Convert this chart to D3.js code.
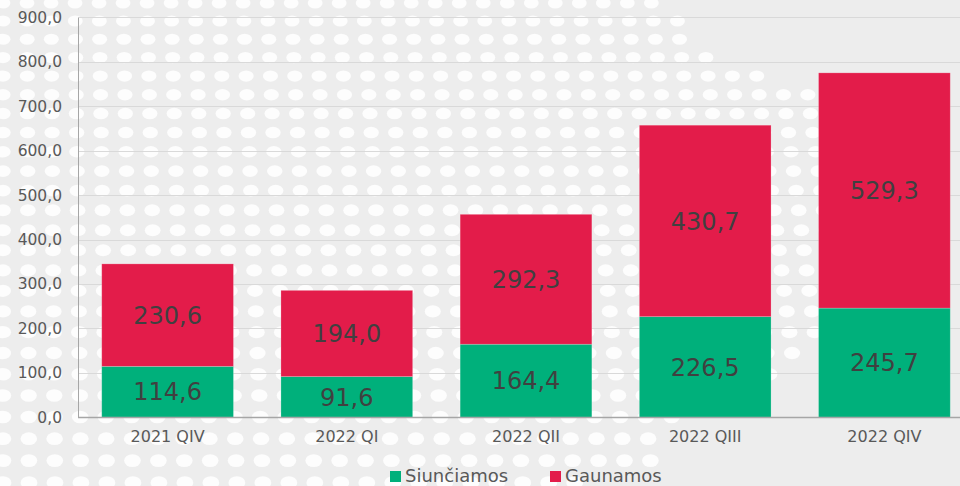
<!DOCTYPE html>
<html>
<head>
<meta charset="utf-8">
<script src="https://cdn.jsdelivr.net/npm/d3@7"></script>
<style>
  html, body { margin: 0; padding: 0; background: #ededed; }
  svg { display: block; font-family: "DejaVu Sans", Verdana, sans-serif; }
</style>
</head>
<body>
<svg id="chart" width="960" height="486"></svg>
<script>
const categories = ["2021 QIV", "2022 QI", "2022 QII", "2022 QIII", "2022 QIV"];
const siunciamos = [114.6, 91.6, 164.4, 226.5, 245.7];
const gaunamos = [230.6, 194.0, 292.3, 430.7, 529.3];
const seriesNames = ["Siunčiamos", "Gaunamos"];
const yTicks = [0, 100, 200, 300, 400, 500, 600, 700, 800, 900];

const W = 960, H = 486;
const colors = ["#00b07b", "#e31c4a"];
const svg = d3.select("#chart");

svg.append("rect").attr("width", W).attr("height", H).attr("fill", "#ededed");

// decorative dotted background
const region = [[0,0],[665,0],[690,25],[712,60],[780,78],[825,96],[842,120],[842,330],[800,350],[775,375],[700,415],[672,430],[670,470],[560,486],[0,486]];
const dots = [];
let yy = 3;
while (yy < H + 10) {
  const dx = 24 + 2 * yy / H;
  for (let xx = 3; xx < W + 10; xx += dx) {
    if (d3.polygonContains(region, [xx, yy])) dots.push([xx, yy, dx]);
  }
  yy += 18 + 4.3 * yy / H;
}
svg.append("g").selectAll("ellipse").data(dots).join("ellipse")
  .attr("cx", d => d[0]).attr("cy", d => d[1])
  .attr("rx", d => 7.4 + d[1] / H).attr("ry", d => 5.5 + d[1] / H)
  .attr("fill", "#ffffff").attr("opacity", 0.85);

const x = d3.scaleBand().domain(categories).range([78, 974]).paddingInner(0.265).paddingOuter(0.1325);
const y = d3.scaleLinear().domain([0, 900]).range([417.3, 17.3]);

// gridlines
svg.append("g").selectAll("line").data(yTicks.slice(1)).join("line")
  .attr("x1", 78).attr("x2", W)
  .attr("y1", d => Math.round(y(d)) + 0.5).attr("y2", d => Math.round(y(d)) + 0.5)
  .attr("stroke", "#d9d9d9").attr("stroke-width", 1);

// y axis
const yAxis = d3.axisLeft(y).tickValues(yTicks).tickSize(0).tickPadding(16)
  .tickFormat(d => d3.format(".1f")(d).replace(".", ","));
const gy = svg.append("g").attr("transform", "translate(78,0)").call(yAxis);
gy.select(".domain").attr("stroke", "#a6a6a6");
gy.selectAll("text").attr("font-size", "15.5px").attr("fill", "#595959")
  .attr("font-family", "DejaVu Sans, Verdana, sans-serif");

// stacked bars
const data = categories.map((c, i) => ({ cat: c, s: siunciamos[i], g: gaunamos[i] }));
const stack = d3.stack().keys(["s", "g"])(data);
const layers = svg.append("g").selectAll("g").data(stack).join("g")
  .attr("fill", (d, i) => colors[i]);
layers.selectAll("rect").data(d => d).join("rect")
  .attr("x", d => x(d.data.cat))
  .attr("width", x.bandwidth())
  .attr("y", d => y(d[1]))
  .attr("height", d => y(d[0]) - y(d[1]))
  .attr("stroke", "rgba(255,255,255,0.25)").attr("stroke-width", 0.8);

// bar labels
layers.selectAll("text").data(d => d).join("text")
  .attr("x", d => x(d.data.cat) + x.bandwidth() / 2)
  .attr("y", d => (y(d[0]) + y(d[1])) / 2)
  .attr("dy", "0.36em")
  .attr("text-anchor", "middle")
  .attr("font-size", "24px")
  .attr("fill", "#404040")
  .text(d => d3.format(".1f")(d[1] - d[0]).replace(".", ","));

// x axis
const xAxis = d3.axisBottom(x).tickSize(0).tickPadding(13);
const gx = svg.append("g").attr("transform", "translate(0,417.5)").call(xAxis);
gx.select(".domain").attr("d", "M78,0H960").attr("stroke", "#a6a6a6").attr("stroke-width", 1.3);
gx.selectAll("text").attr("font-size", "16px").attr("fill", "#595959")
  .attr("font-family", "DejaVu Sans, Verdana, sans-serif");

// legend
const legendX = [390, 550];
const lg = svg.append("g").selectAll("g").data(seriesNames).join("g")
  .attr("transform", (d, i) => `translate(${legendX[i]},0)`);
lg.append("rect").attr("x", 0).attr("y", 471).attr("width", 11).attr("height", 11)
  .attr("fill", (d, i) => colors[i]);
lg.append("text").attr("x", 15).attr("y", 482)
  .attr("font-size", "18px").attr("fill", "#595959").text(d => d);
</script>
</body>
</html>
